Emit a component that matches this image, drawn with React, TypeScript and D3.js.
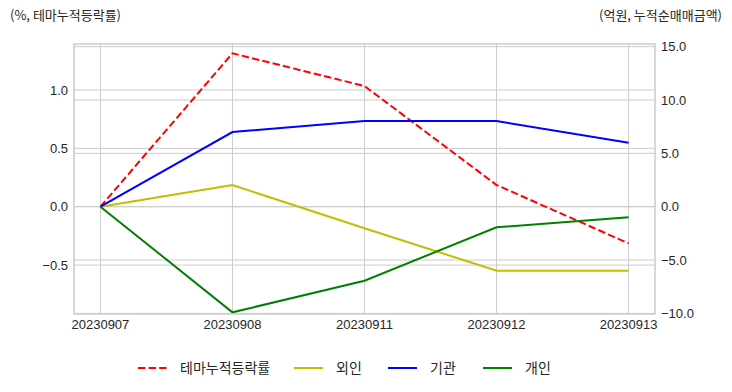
import React from "react";
import * as d3 from "d3";

const dates = ["20230907", "20230908", "20230911", "20230912", "20230913"];
const themeRate = [0, 1.314, 1.034, 0.186, -0.314];
const foreign = [0, 2.03, -2.02, -6.0, -6.0];
const institution = [0, 7.0, 8.03, 8.03, 6.0];
const individual = [0, -9.9, -6.94, -1.93, -0.99];
const leftTicks = [-0.5, 0.0, 0.5, 1.0];
const rightTicks = [-10, -5, 0, 5, 10, 15];

const W = 732;
const H = 392;
const L = 74, R = 655, T = 44, B = 314;
const FONT = "'Liberation Sans', 'Noto Sans CJK KR', sans-serif";
const KFONT = "'Noto Sans CJK KR', sans-serif";

export default function App() {
  const x = d3.scaleLinear().domain([-0.2, dates.length - 1 + 0.2]).range([L, R]);
  const yL = d3.scaleLinear().domain([-0.919, 1.394]).range([B, T]);
  const yR = d3.scaleLinear().domain([-10.06, 15.25]).range([B, T]);

  const lineL = d3.line<number>().x((_, i) => x(i)).y((d) => yL(d));
  const lineR = d3.line<number>().x((_, i) => x(i)).y((d) => yR(d));

  const series = [
    { name: "외인", data: foreign, color: "#bfbf00" },
    { name: "기관", data: institution, color: "#0000ff" },
    { name: "개인", data: individual, color: "#008000" },
  ];

  const legend = [
    { name: "테마누적등락률", color: "#ff0000", dash: true, x0: 138 },
    { name: "외인", color: "#bfbf00", dash: false, x0: 294 },
    { name: "기관", color: "#0000ff", dash: false, x0: 388 },
    { name: "개인", color: "#008000", dash: false, x0: 483 },
  ];

  const grid = "#cccccc";

  return (
    <svg width={W} height={H} style={{ position: "absolute", left: 0, top: 0, background: "#fff" }}>
      <rect x={0} y={0} width={W} height={H} fill="#fff" />
      {dates.map((d, i) => (
        <line key={d} x1={x(i)} x2={x(i)} y1={T} y2={B} stroke={grid} strokeWidth={1} />
      ))}
      {leftTicks.map((t) => (
        <line key={"l" + t} x1={L} x2={R} y1={yL(t)} y2={yL(t)} stroke={grid} strokeWidth={1} />
      ))}
      {rightTicks.map((t) => (
        <line key={"r" + t} x1={L} x2={R} y1={yR(t)} y2={yR(t)} stroke={grid} strokeWidth={1} />
      ))}
      <path d={lineL(themeRate) || ""} fill="none" stroke="#ff0000" strokeWidth={2} strokeDasharray="7.4,3.2" />
      {series.map((s) => (
        <path key={s.name} d={lineR(s.data) || ""} fill="none" stroke={s.color} strokeWidth={2} />
      ))}
      <rect x={L} y={T} width={R - L} height={B - T} fill="none" stroke={grid} strokeWidth={1.5} />
      {leftTicks.map((t) => (
        <text key={"lt" + t} x={68} y={yL(t)} dy="0.35em" textAnchor="end" fontFamily={FONT} fontSize={13} fill="#262626">
          {d3.format(".1f")(t)}
        </text>
      ))}
      {rightTicks.map((t) => (
        <text key={"rt" + t} x={661} y={yR(t)} dy="0.35em" textAnchor="start" fontFamily={FONT} fontSize={13} fill="#262626">
          {d3.format(".1f")(t)}
        </text>
      ))}
      {dates.map((d, i) => (
        <text key={"xt" + d} x={x(i)} y={B + 15} textAnchor="middle" fontFamily={FONT} fontSize={13} fill="#262626">
          {d}
        </text>
      ))}
      <text x={10} y={20} fontFamily={KFONT} fontSize={13} fill="#262626">(%, 테마누적등락률)</text>
      <text x={722} y={20} textAnchor="end" fontFamily={KFONT} fontSize={13} fill="#262626">(억원, 누적순매매금액)</text>
      {legend.map((l) => (
        <g key={l.name}>
          <line x1={l.x0} x2={l.x0 + 29} y1={368} y2={368} stroke={l.color} strokeWidth={2} strokeDasharray={l.dash ? "7.4,3.2" : undefined} />
          <text x={l.x0 + 42} y={368} dy="0.35em" fontFamily={KFONT} fontSize={14} fill="#262626">{l.name}</text>
        </g>
      ))}
    </svg>
  );
}
